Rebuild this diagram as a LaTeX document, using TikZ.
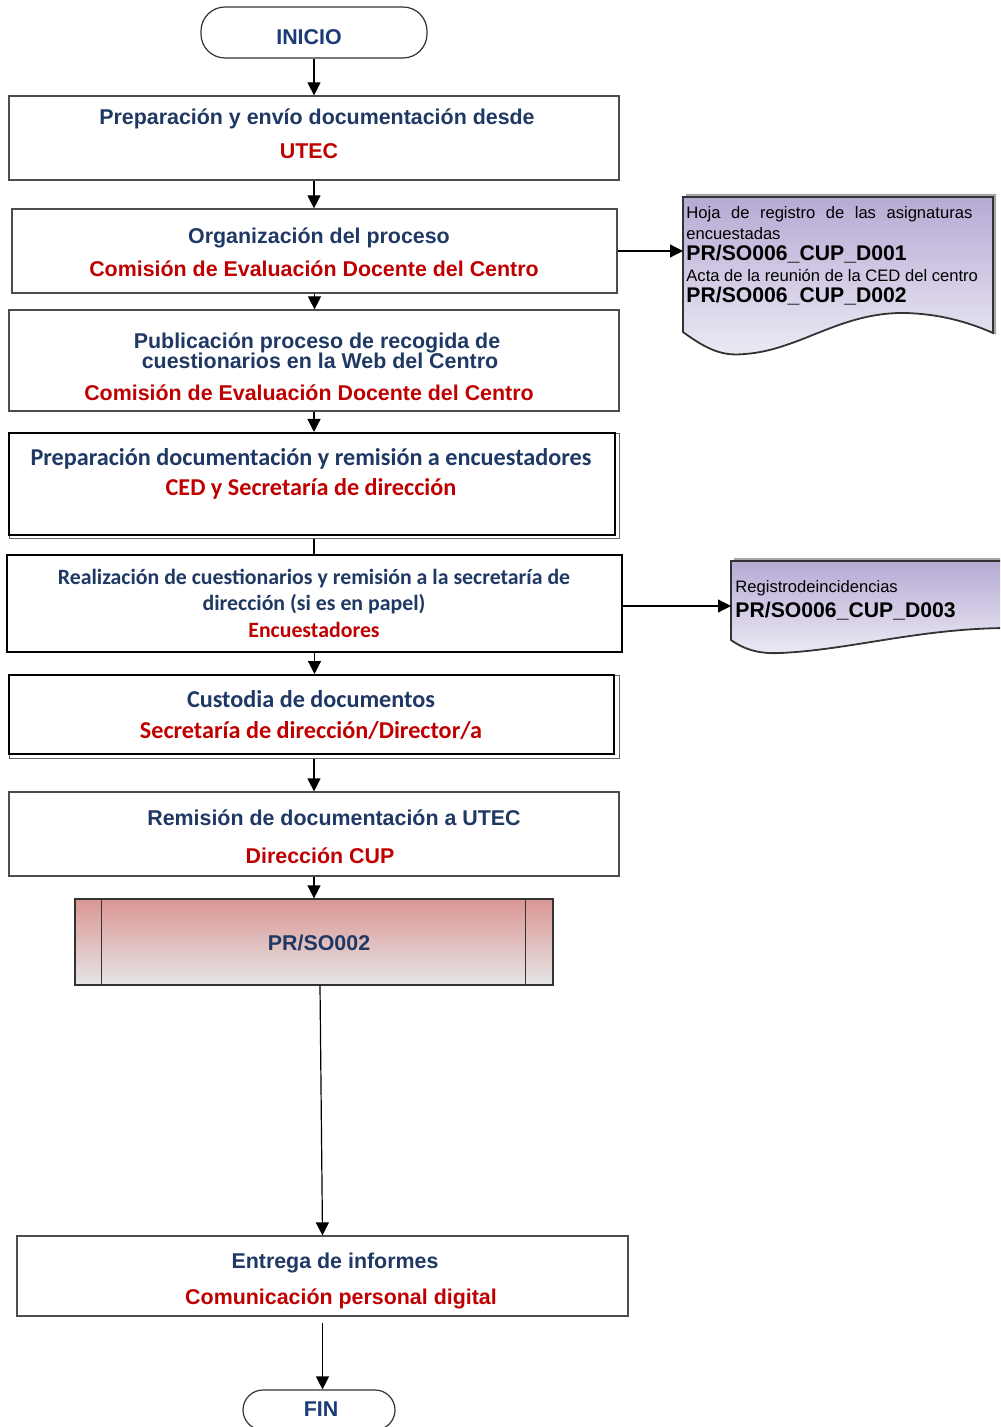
\documentclass[tikz,border=0pt]{standalone}
\usepackage{fontspec}
\setmainfont{Liberation Sans}
\newfontfamily\calib{Carlito}
\usetikzlibrary{arrows.meta,calc}
\definecolor{navy}{RGB}{31,56,100}
\definecolor{navyb}{RGB}{28,58,120}
\definecolor{redt}{RGB}{192,0,0}
\definecolor{lav}{RGB}{182,170,212}
\definecolor{prred}{RGB}{218,150,148}
\begin{document}
\begin{tikzpicture}[x=0.5pt,y=-0.5pt,
  box/.style={draw=black!70,line width=0.6pt,fill=white,inner sep=0pt},
  tbox/.style={draw=black,line width=1pt,fill=white,inner sep=0pt},
  term/.style={draw=black!80,line width=0.6pt,fill=white,inner sep=0pt,rounded corners=12pt},
  txt/.style={inner sep=0pt,text height=0.716em,text depth=0pt},
  ctxt/.style={inner sep=0pt,text height=0.644em,text depth=0pt},
  tb/.style={txt,font=\bfseries\fontsize{10.7}{12}\selectfont,text=navy},
  tr/.style={tb,text=redt},
  cb/.style={ctxt,font=\calib\bfseries\fontsize{12.1}{14}\selectfont,text=navy},
  cr/.style={cb,text=redt},
  cbs/.style={ctxt,font=\calib\bfseries\fontsize{10.9}{12}\selectfont,text=navy},
  crs/.style={cbs,text=redt},
  dt/.style={txt,font=\fontsize{8.3}{10}\selectfont,text=black,anchor=west},
  dc/.style={txt,font=\bfseries\fontsize{10.6}{12}\selectfont,text=black,anchor=west},
  docshape/.style={draw=black!80,line width=0.9pt,top color=lav,bottom color=lav!25!white},
  docshadow/.style={fill=black!35},
  arr/.style={-{Triangle[width=6.5pt,length=6.5pt]},line width=0.6pt,black},
  ln/.style={line width=0.6pt,black}
]
\clip (0,0) rectangle (1000,1427);
\fill[white] (0,0) rectangle (1000,1427);

% INICIO
\node[term,minimum width=113pt,minimum height=25.5pt] (ini) at (314,32.5) {};
\node[tb,text=navyb] (tini) at (309,37) {INICIO};

% Box 1
\node[box,minimum width=305pt,minimum height=42pt] (b1) at (314,138) {};
\node[tb] (t1a) at (317,117) {Preparación y envío documentación desde};
\node[tr] (t1b) at (309,151) {UTEC};

% Box 2
\node[box,minimum width=302.5pt,minimum height=42pt] (b2) at (314.5,251) {};
\node[tb] (t2a) at (319,236) {Organización del proceso};
\node[tr] (t2b) at (314,269) {Comisión de Evaluación Docente del Centro};

% Box 3
\node[box,minimum width=305pt,minimum height=50.5pt] (b3) at (314,360.5) {};
\node[tb] (t3a) at (317,341) {Publicación proceso de recogida de};
\node[tb] (t3b) at (320,361) {cuestionarios en la Web del Centro};
\node[tr] (t3c) at (309,393) {Comisión de Evaluación Docente del Centro};

% Box 4 (with offset frame)
\node[draw=black!60,line width=0.5pt,inner sep=0pt,minimum width=305pt,minimum height=52.5pt] (b4s) at (314,485.5) {};
\node[tbox,minimum width=303pt,minimum height=51pt] (b4) at (312,484) {};
\node[cb] (t4a) at (311,459) {Preparación documentación y remisión a encuestadores};
\node[cr] (t4b) at (311,489) {CED y Secretaría de dirección};

% Box 5
\node[tbox,minimum width=307.5pt,minimum height=48.5pt] (b5) at (314.5,603.5) {};
\node[cbs] (t5a) at (314,578) {Realización de cuestionarios y remisión a la secretaría de};
\node[cbs] (t5b) at (314,604) {dirección (si es en papel)};
\node[crs] (t5c) at (314,631) {Encuestadores};

% Box 6 (with offset frame)
\node[draw=black!60,line width=0.5pt,inner sep=0pt,minimum width=305pt,minimum height=41.5pt] (b6s) at (314,716.5) {};
\node[tbox,minimum width=302.5pt,minimum height=39.5pt] (b6) at (311.5,714.5) {};
\node[cb] (t6a) at (311,701) {Custodia de documentos};
\node[cr] (t6b) at (311,732) {Secretaría de dirección/Director/a};

% Box 7
\node[box,minimum width=305pt,minimum height=42pt] (b7) at (314,834) {};
\node[tb] (t7a) at (334,818) {Remisión de documentación a UTEC};
\node[tr] (t7b) at (320,856) {Dirección CUP};

% Predefined process
\node[draw=black!80,line width=0.6pt,inner sep=0pt,top color=prred,bottom color=black!10,
      minimum width=239pt,minimum height=43pt] (pr) at (314,942) {};
\draw[ln,black!80] ($(pr.north west)+(27,0)$) -- ($(pr.south west)+(27,0)$);
\draw[ln,black!80] ($(pr.north east)+(-28,0)$) -- ($(pr.south east)+(-28,0)$);
\node[tb] (tpr) at (319,943) {PR/SO002};

% Box 8
\node[box,minimum width=305.5pt,minimum height=40pt] (b8) at (322.5,1276) {};
\node[tb] (t8a) at (335,1261) {Entrega de informes};
\node[tr] (t8b) at (341,1297) {Comunicación personal digital};

% FIN
\node[term,minimum width=76pt,minimum height=20pt,rounded corners=10pt] (fin) at (319,1410) {};
\node[tb,text=navyb] (tfin) at (321,1409) {FIN};

% Document 1
\path[docshadow] (686,194) -- (996,194) -- (996,335) -- (993,333) -- (993,197) -- (686,197) -- cycle;
\path[docshape] (683,197) -- (683,332)
  .. controls (710,352) and (725,356) .. (745,354)
  .. controls (800,350) and (840,312) .. (905,313)
  .. controls (945,314) and (975,325) .. (993,333)
  -- (993,197) -- cycle;
\coordinate (d1) at (683,251);
\node[dt] (d1a) at (686,211) {\makebox[143pt][s]{Hoja de registro de las asignaturas}};
\node[dt] (d1b) at (686,232) {encuestadas};
\node[dc] (d1c) at (686,253) {PR/SO006\_CUP\_D001};
\node[dt] (d1d) at (686,274) {Acta de la reunión de la CED del centro};
\node[dc] (d1e) at (686,295) {PR/SO006\_CUP\_D002};

% Document 2
\path[docshadow] (734,558) -- (1010,558) -- (1010,561) -- (734,561) -- cycle;
\path[docshape] (731,561) -- (731,640)
  .. controls (745,650) and (760,654) .. (780,653)
  .. controls (850,650) and (920,628) .. (1010,628)
  -- (1010,561) -- cycle;
\coordinate (d2) at (731,606);
\node[dt] (d2a) at (735,585) {Registrodeincidencias};
\node[dc] (d2b) at (735,610) {PR/SO006\_CUP\_D003};

% Connectors
\draw[arr] (ini.south) -- (ini.south |- b1.north);
\draw[arr] (b1.south) -- (b1.south |- b2.north);
\draw[arr] (b2.south) -- (b2.south |- b3.north);
\draw[arr] (b3.south) -- (b3.south |- b4.north);
\draw[ln] (b4s.south) -- (b4s.south |- b5.north);
\draw[arr] (b5.south) -- (b5.south |- b6.north);
\draw[arr] (b6s.south) -- (b6s.south |- b7.north);
\draw[arr] (b7.south) -- (b7.south |- pr.north);
\draw[arr] ($(pr.south)+(6,0)$) -- (b8.north);
\draw[arr,shorten <=3pt] (b8.south) -- (b8.south |- fin.north);
\draw[arr] (b2.east) -- (d1);
\draw[arr] (b5.east |- d2) -- (d2);
\end{tikzpicture}
\end{document}
